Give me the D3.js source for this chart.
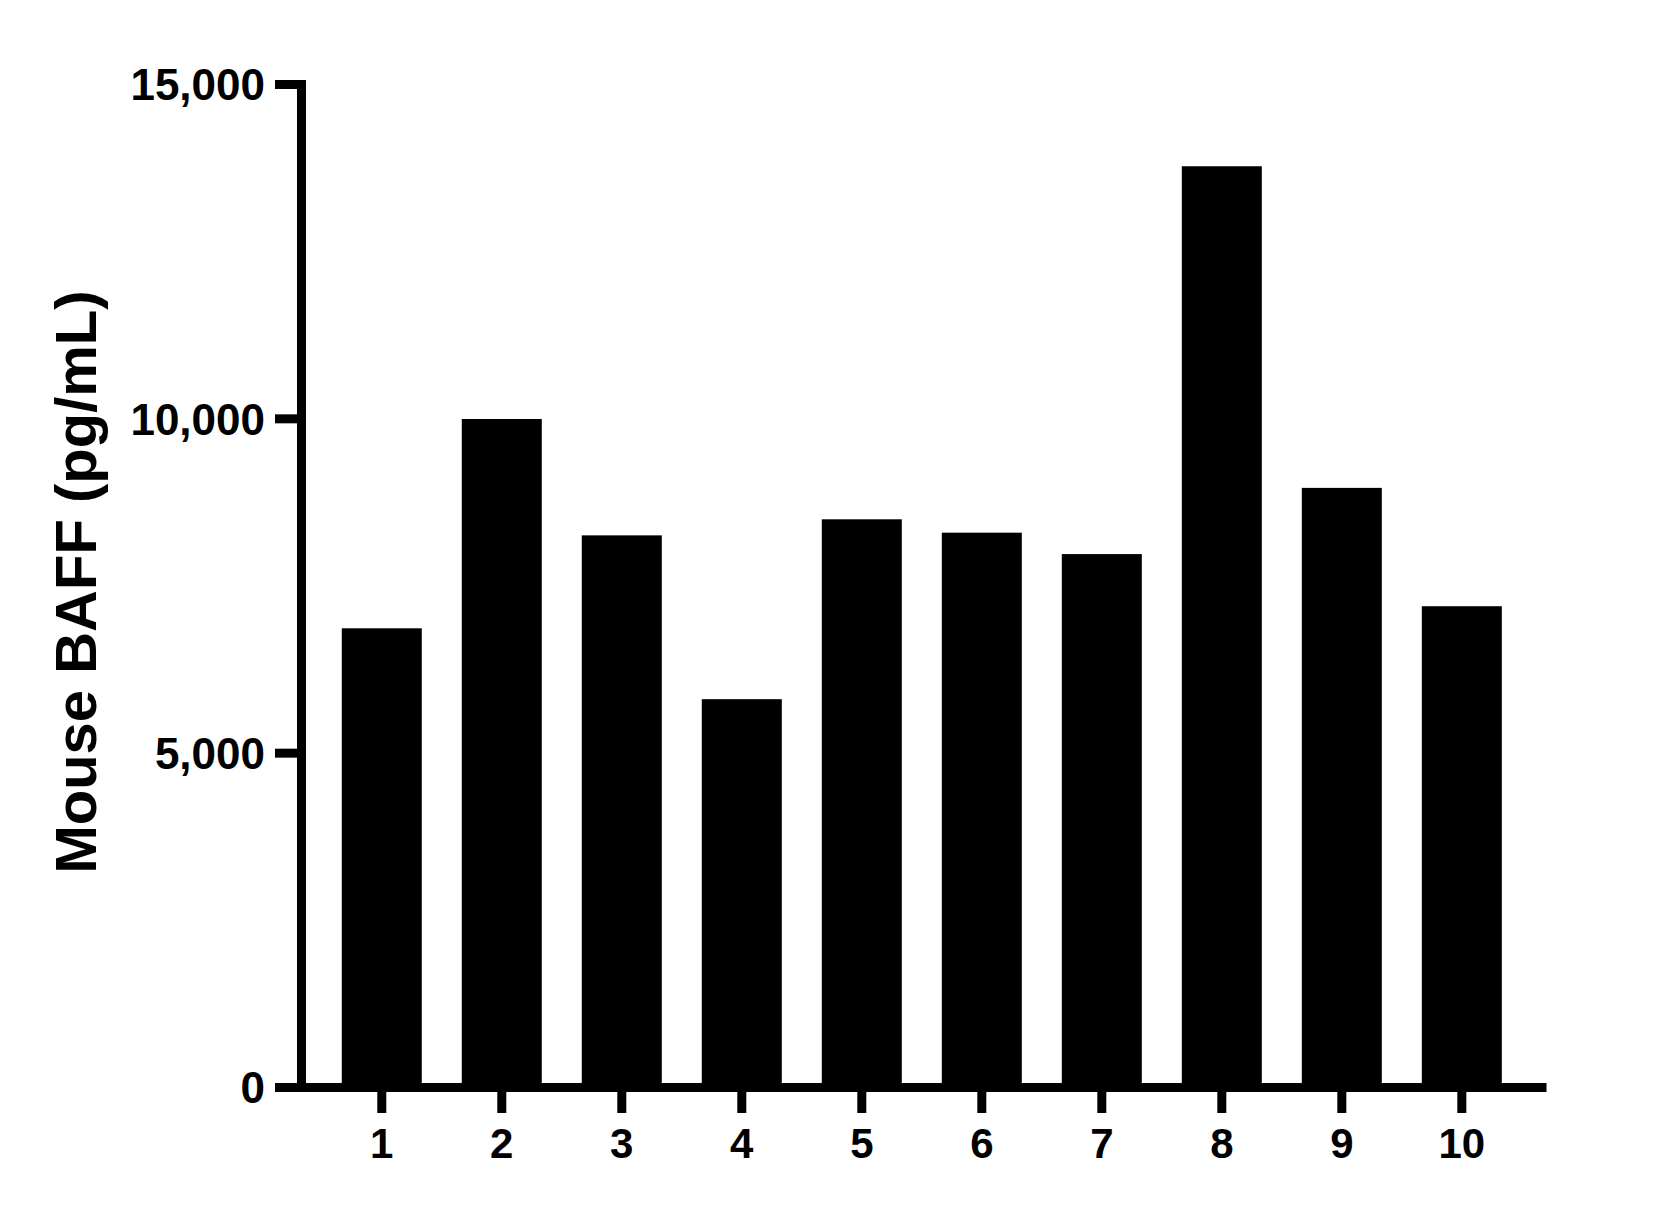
<!DOCTYPE html>
<html>
<head>
<meta charset="utf-8">
<script src="https://cdn.jsdelivr.net/npm/d3@7"></script>
<style>
  body { margin: 0; background: #fff; }
  .axis path, .axis line { stroke: #000; stroke-width: 9; }
  .axis text { fill: #000; font-family: Arial, "Liberation Sans", sans-serif; font-weight: bold; }
</style>
</head>
<body>
<div id="chart"></div>
<script>
// Data
const samples = ['1', '2', '3', '4', '5', '6', '7', '8', '9', '10']
const baff = [6860, 9990, 8250, 5800, 8490, 8290, 7970, 13770, 8960, 7190]
const yTicks = [0, 5000, 10000, 15000]

const width = 1680,
  height = 1208

const x0 = 301, x1 = 1546,
  yBottom = 1087, yTop = 84

const svg = d3.select('#chart')
  .append('svg')
  .attr('width', width)
  .attr('height', height)

const xScale = d3.scaleBand()
  .domain(samples)
  .range([x0, x1])
  .paddingInner(1 / 3)
  .paddingOuter(0.354)
  .align(0.48)

const yScale = d3.scaleLinear()
  .domain([0, 15000])
  .range([yBottom, yTop])

// bars
svg.selectAll('rect.bar')
  .data(baff)
  .enter()
  .append('rect')
  .attr('class', 'bar')
  .attr('fill', '#000')
  .attr('x', (d, i) => xScale(samples[i]))
  .attr('y', d => yScale(d))
  .attr('width', xScale.bandwidth())
  .attr('height', d => yBottom - yScale(d))

// y axis
const yAxis = svg.append('g')
  .attr('class', 'axis')
  .attr('transform', `translate(${x0},0)`)
  .call(d3.axisLeft(yScale)
    .tickValues(yTicks)
    .tickFormat(d3.format(','))
    .tickSize(26)
    .tickSizeOuter(0)
    .tickPadding(10))
yAxis.select('.domain').attr('stroke-linecap', 'square')
yAxis.selectAll('text')
  .attr('font-size', 44)
  .attr('x', -36)
  .attr('dy', '0.36em')

// x axis
const xAxis = svg.append('g')
  .attr('class', 'axis')
  .attr('transform', `translate(0,${yBottom})`)
  .call(d3.axisBottom(xScale)
    .tickSize(26)
    .tickSizeOuter(0))
xAxis.selectAll('text')
  .attr('font-size', 42)
  .attr('y', 71)
  .attr('dy', 0)

// y axis title
svg.append('text')
  .attr('transform', `translate(96,582) rotate(-90)`)
  .attr('text-anchor', 'middle')
  .attr('font-family', 'Arial, "Liberation Sans", sans-serif')
  .attr('font-weight', 'bold')
  .attr('font-size', 58)
  .attr('fill', '#000')
  .text('Mouse BAFF (pg/mL)')
</script>
</body>
</html>
